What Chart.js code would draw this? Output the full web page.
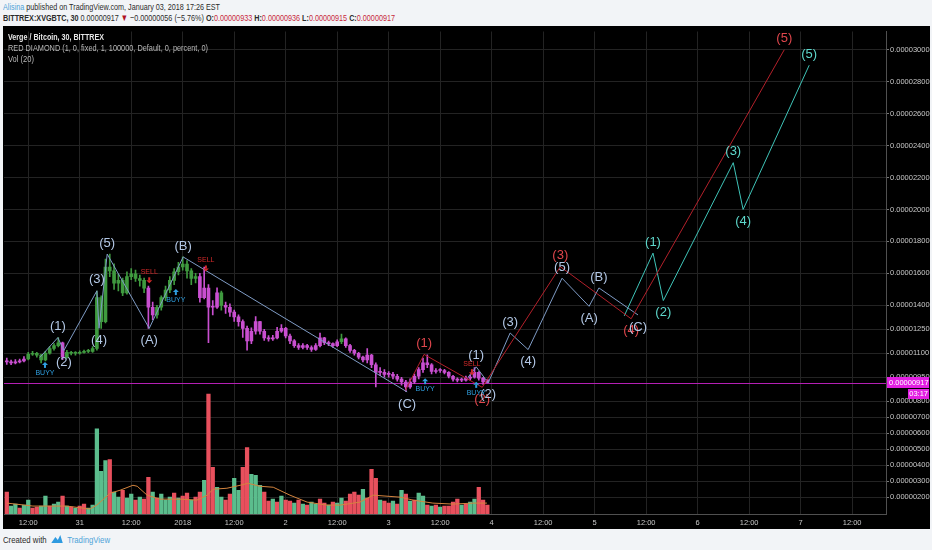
<!DOCTYPE html>
<html>
<head>
<meta charset="utf-8">
<script src="https://cdn.jsdelivr.net/npm/chart.js@4.4.1/dist/chart.umd.min.js"></script>
<style>
  html,body{margin:0;padding:0;}
  body{width:932px;height:550px;background:#f2f4f7;position:relative;overflow:hidden;
       font-family:"Liberation Sans",Arial,sans-serif;}
  .fit{position:absolute;white-space:nowrap;transform-origin:0 0;}
  .hdr{left:3px;font-size:9.5px;color:#2b2b2b;}
  #h1{top:1px;}
  #h2{top:12px;}
  .red{color:#c8283a;}
  #wrap{position:absolute;left:3px;top:26px;width:927px;height:503px;background:#000;}
  #c{position:absolute;left:0;top:0;}
  .lg{left:5px;font-size:9px;}
  #foot{left:3px;top:534px;font-size:9.5px;color:#2b2b2b;}
</style>
</head>
<body>
<div class="fit hdr" id="h1" data-w="217"><span style="color:#4ea3d8">Alisina</span> published on TradingView.com, January 03, 2018 17:26 EST</div>
<div class="fit hdr" id="h2" data-w="392"><b>BITTREX:XVGBTC, 30</b> 0.00000917 <span style="color:#b0121f">&#9660;</span> &#8722;0.00000056 (&#8722;5.76%) <b>O:</b><span class="red">0.00000933</span> <b>H:</b><span class="red">0.00000936</span> <b>L:</b><span class="red">0.00000915</span> <b>C:</b><span class="red">0.00000917</span></div>
<div id="wrap">
  <canvas id="c" width="927" height="503"></canvas>
  <div class="fit lg" data-w="96" style="top:6px;color:#e6e6e6;font-weight:bold;">Verge / Bitcoin, 30, BITTREX</div>
  <div class="fit lg" data-w="200" style="top:17px;color:#b8b8b8;">RED DIAMOND (1, 0, fixed, 1, 100000, Default, 0, percent, 0)</div>
  <div class="fit lg" data-w="26" style="top:28px;color:#b8b8b8;">Vol (20)</div>
</div>
<div class="fit" id="foot" data-w="107">Created with <svg width="16" height="10" viewBox="0 0 16 10" style="vertical-align:-1px;margin:0 2px"><path d="M1 9 L6 3 L9 6 L12 1 L15 9 Z" fill="#2e9ae0"/></svg> <span style="color:#4ea3d8">TradingView</span></div>

<script>
// ---------- DATA (prices in satoshi = 1e-8 BTC, time in hours since Dec 30 00:00) ----------
const hours = [7,8,9,10,11,12,13,14,15,16,17,18,19,20,21,22,23,24,25,26,27,28,29,30,31,32,33,34,35,36,
  37,38,39,40,41,42,43,44,45,46,47,48,49,50,51,52,53,54,55,56,57,58,59,60,61,62,63,64,65,66,
  67,68,69,70,71,72,73,74,75,76,77,78,79,80,81,82,83,84,85,86,87,88,89,90,91,92,93,94,95,96,
  97,98,99,100,101,102,103,104,105,106,107,108,109,110,111,112,113,114,115,116,117,118,119];

const openP = [1050,1046,1040,1046,1052,1064,1094,1100,1088,1058,
  1100,1130,1148,1166,1076,1106,1100,1100,1106,1112,
  1112,1130,1448,1298,1640,1616,1538,1556,1478,1580,
  1598,1568,1556,1508,1388,1340,1388,1448,1496,1556,
  1610,1640,1658,1616,1568,1580,1448,1508,1388,1388,
  1478,1400,1388,1358,1328,1298,1256,1178,1238,1298,
  1238,1196,1190,1196,1238,1256,1208,1178,1148,1136,
  1148,1136,1124,1148,1196,1166,1160,1148,1172,1190,
  1148,1118,1100,1076,1058,1088,1028,980,980,968,
  968,956,938,920,890,920,956,998,1040,1028,
  986,992,992,980,956,938,932,932,944,950,
  980,944,933];
const closeP = [1046,1040,1046,1052,1064,1094,1100,1088,1058,1100,
  1130,1148,1166,1076,1106,1100,1100,1106,1112,1112,
  1130,1448,1298,1640,1616,1538,1556,1478,1580,1598,
  1568,1556,1508,1388,1340,1388,1448,1496,1556,1610,
  1640,1658,1616,1568,1580,1448,1508,1388,1388,1478,
  1400,1388,1358,1328,1298,1256,1178,1238,1298,1238,
  1196,1190,1196,1238,1256,1208,1178,1148,1136,1148,
  1136,1124,1148,1196,1166,1160,1148,1172,1190,1148,
  1118,1100,1076,1058,1088,1028,980,980,968,968,
  956,938,920,890,920,956,998,1040,1028,986,
  992,992,980,956,938,932,932,944,950,980,
  944,920,917];
const highP = [1070,1058,1060,1064,1080,1106,1112,1106,1094,1112,
  1142,1160,1198,1170,1118,1112,1110,1116,1120,1124,
  1142,1490,1460,1690,1721,1660,1596,1570,1610,1630,
  1620,1590,1570,1520,1420,1400,1460,1520,1580,1630,
  1670,1703,1680,1630,1600,1600,1640,1530,1430,1510,
  1490,1420,1410,1370,1340,1310,1270,1260,1330,1300,
  1250,1210,1212,1262,1280,1262,1220,1186,1160,1160,
  1156,1146,1160,1226,1200,1176,1166,1184,1220,1196,
  1156,1124,1106,1082,1130,1094,1040,1010,998,986,
  980,968,950,930,940,970,1010,1070,1090,1036,
  1004,1004,1000,986,962,946,944,958,964,1010,
  986,950,936];
const lowP = [1030,1028,1034,1040,1046,1058,1086,1076,1040,1052,
  1094,1120,1140,1060,1070,1090,1088,1094,1100,1104,
  1106,1120,1256,1290,1580,1500,1490,1460,1470,1560,
  1550,1520,1480,1256,1310,1320,1370,1430,1480,1530,
  1590,1620,1570,1530,1540,1420,1440,1166,1340,1380,
  1370,1350,1330,1300,1270,1200,1120,1160,1220,1220,
  1180,1176,1180,1190,1230,1196,1160,1136,1124,1128,
  1124,1112,1118,1140,1154,1148,1136,1142,1160,1136,
  1106,1088,1064,1046,1040,1010,890,960,950,950,
  940,926,900,862,880,910,940,980,1010,970,
  976,980,970,946,926,920,922,926,932,944,
  932,905,915];
// RED DIAMOND trend state: 1 = bullish (green bars), -1 = bearish (magenta bars)
const trendState = [-1,-1,-1,-1,-1,1,1,1,1,1,
  1,1,1,-1,1,1,1,1,1,1,
  1,1,1,1,1,1,1,1,1,1,
  1,1,1,-1,-1,1,1,1,1,1,
  1,1,1,1,1,-1,-1,-1,-1,-1,
  1,-1,-1,-1,-1,-1,-1,-1,-1,-1,
  -1,-1,-1,-1,-1,-1,-1,-1,-1,-1,
  -1,-1,-1,-1,-1,-1,-1,-1,1,-1,
  -1,-1,-1,-1,-1,-1,-1,-1,-1,-1,
  -1,-1,-1,-1,-1,-1,-1,-1,-1,-1,
  -1,-1,-1,-1,-1,-1,-1,-1,-1,-1,
  -1,-1,-1];
// Volume (relative units) and its bar direction (1 up, -1 down)
const volume = [22,8,10,6,9,14,6,7,8,18,
  8,10,12,18,8,7,6,8,10,6,
  9,86,43,54,55,22,17,24,16,20,
  14,17,15,37,22,16,20,14,17,21,
  16,18,21,14,17,22,34,121,47,27,
  17,14,20,36,24,47,67,40,39,29,
  22,13,15,12,18,14,13,11,14,10,
  9,12,10,15,11,9,12,11,16,13,
  20,22,19,25,16,45,36,14,13,11,
  13,10,24,20,13,14,21,18,9,8,
  9,7,8,8,12,15,9,10,12,15,
  27,14,9];
const volDir = [-1,1,1,-1,1,1,-1,-1,1,1,
  -1,1,1,-1,1,-1,1,-1,-1,1,
  1,1,1,1,-1,1,1,-1,1,1,
  -1,1,-1,-1,1,-1,1,1,1,-1,
  1,-1,-1,1,-1,-1,1,-1,-1,1,
  1,-1,-1,1,1,-1,-1,1,1,1,
  -1,-1,1,-1,1,-1,-1,1,-1,1,
  -1,1,1,-1,-1,1,-1,1,1,-1,
  -1,-1,-1,1,-1,-1,-1,1,-1,-1,
  1,-1,1,-1,1,-1,1,1,-1,1,
  -1,1,-1,-1,-1,-1,1,-1,1,1,
  -1,-1,-1];
// Volume moving average (20), read at points
const volMaHours = [7.05,13.1,21.0,26.4,28.0,31.1,33.4,36.4,37.4,39.7,42.7,47.4,51.3,53.7,55.1,58.3,
  61.4,63.2,66.0,69.1,73.0,77.0,81.6,84.7,89.3,92.4,98.7,101.7,106.3,111.0,115.7,118.9];
const volMaValues = [11,8,8,5,9,21,24,29,28,19,15,15,14,19,25,26,29,31,28,27,19,12,9,9,12,19,17,14,11,10,11,11];

// Elliott wave drawings (hour, price, label)
const waveHistHours  = [14.7,18.9,20.3,28.0,28.5,30.4,40.2,48.1,100.3];
const waveHistPrices = [1074,1198,1117,1491,1256,1721,1256,1703,858];
const waveHistLabels = ['','(1)','(2)','(3)','(4)','(5)','(A)','(B)','(C)'];

const waveRedHours  = [99.8,104.25,117.8,136.0,152.5,188.2];
const waveRedPrices = [864,1093,887,1642,1316,3000];
const waveRedLabels = ['','(1)','(2)','(3)','(4)','(5)'];

const waveBlueHours  = [114.5,116.4,119.2,124.3,128.5,136.4,142.7,145.0,154.1];
const waveBluePrices = [950,1015,915,1227,1123,1570,1394,1509,1340];
const waveBlueLabels = ['','(1)','(2)','(3)','(4)','(5)','(A)','(B)','(C)'];

const waveCyanHours  = [150.9,157.6,160.0,176.3,178.6,194.0];
const waveCyanPrices = [1334,1727,1430,2293,2000,2903];
const waveCyanLabels = ['','(1)','(2)','(3)','(4)','(5)'];

// Signal markers
const markerHours  = [15.9,40.2,46.4,53.4,104.5,115.4,116.4];
const markerPrices = [1046,1538,1502,1612,944,963,921];
const markerTypes  = ['BUYY','SELL','BUYY','SELL','BUYY','SELL','BUYY'];

// Axis ticks
const xTickHours  = [12,24,36,48,60,72,84,96,108,120,132,144,156,168,180,192,204];
const xTickLabels = ['12:00','31','12:00','2018','12:00','2','12:00','3','12:00','4','12:00','5','12:00','6','12:00','7','12:00'];
const yTickValues = [200,300,400,500,600,700,800,950,1100,1250,1400,1600,1800,2000,2200,2400,2600,2800,3000];
const lastClose = 917;
const countdown = '03:17';

// ---------- text fitting (scale HTML text to the reference widths) ----------
document.querySelectorAll('[data-w]').forEach(el => {
  const w = el.getBoundingClientRect().width;
  el.style.transform = 'scaleX(' + (parseFloat(el.dataset.w) / w) + ')';
});

// ---------- CHART ----------
const FONT = '"Liberation Sans",Arial,sans-serif';
const GREEN = '#3f9a3f', MAGENTA = '#c94fd0';
const VGREEN = '#5bbd8d', VRED = '#e8505d';
const fmt = v => (v / 1e8).toFixed(8);

const body = hours.map((h, i) => ({x: h, y: [openP[i], closeP[i]]}));
const wick = hours.map((h, i) => ({x: h, y: [lowP[i], highP[i]]}));
const vols = hours.map((h, i) => ({x: h, y: volume[i]}));
const volMa = volMaHours.map((h, i) => ({x: h, y: volMaValues[i]}));
const pts = (hs, ps) => hs.map((h, i) => ({x: h, y: ps[i]}));

const waves = [
  {h: waveHistHours, p: waveHistPrices, l: waveHistLabels, line: '#7f9cc6', text: '#b3c8e6'},
  {h: waveRedHours,  p: waveRedPrices,  l: waveRedLabels,  line: '#b3202a', text: '#e0464c'},
  {h: waveBlueHours, p: waveBluePrices, l: waveBlueLabels, line: '#7f9cc6', text: '#b3c8e6'},
  {h: waveCyanHours, p: waveCyanPrices, l: waveCyanLabels, line: '#3fc4b8', text: '#5ed8cc'}
];

const lineDs = waves.map(w => ({
  type: 'line', data: pts(w.h, w.p), borderColor: w.line, borderWidth: 1,
  pointRadius: 0, tension: 0, yAxisID: 'y', order: 1
}));

const overlay = {
  id: 'overlay',
  beforeDatasetsDraw(chart) {
    const {ctx, chartArea: a, scales: {y}} = chart;
    const py = Math.round(y.getPixelForValue(lastClose)) + 0.5;
    ctx.save();
    ctx.strokeStyle = '#b41fb4';
    ctx.lineWidth = 1;
    ctx.beginPath(); ctx.moveTo(a.left, py); ctx.lineTo(a.right, py); ctx.stroke();
    ctx.restore();
  },
  afterDatasetsDraw(chart) {
    const {ctx, scales: {x, y}} = chart;
    ctx.save();
    ctx.font = '13px ' + FONT;
    ctx.textAlign = 'center'; ctx.textBaseline = 'middle';
    waves.forEach(w => {
      w.l.forEach((lab, i) => {
        if (!lab) return;
        const peak = i > 0 ? w.p[i] > w.p[i - 1] : true;
        const px = x.getPixelForValue(w.h[i]);
        const py = y.getPixelForValue(w.p[i]) + (peak ? -11 : 12);
        ctx.fillStyle = w.text;
        ctx.fillText(lab, px, py);
      });
    });
    // signal markers
    ctx.font = '7px ' + FONT;
    markerTypes.forEach((t, i) => {
      const px = x.getPixelForValue(markerHours[i]);
      const py = y.getPixelForValue(markerPrices[i]);
      const buy = t === 'BUYY';
      ctx.fillStyle = buy ? '#2f9fe0' : '#d42a2a';
      ctx.beginPath();
      if (buy) {
        ctx.moveTo(px, py); ctx.lineTo(px - 3, py + 3); ctx.lineTo(px + 3, py + 3); ctx.closePath(); ctx.fill();
        ctx.fillRect(px - 1, py + 3, 2, 3);
        ctx.fillText(t, px, py + 11);
      } else {
        ctx.moveTo(px, py); ctx.lineTo(px - 3, py - 3); ctx.lineTo(px + 3, py - 3); ctx.closePath(); ctx.fill();
        ctx.fillRect(px - 1, py - 6, 2, 3);
        ctx.fillText(t, px, py - 11);
      }
    });
    ctx.restore();
  },
  afterDraw(chart) {
    const {ctx, chartArea: a, scales: {y}} = chart;
    const py = Math.round(y.getPixelForValue(lastClose));
    ctx.save();
    ctx.fillStyle = '#e21fe2';
    ctx.fillRect(a.right + 1, py - 6, 42, 11);
    ctx.fillRect(a.right + 22, py + 6, 21, 10);
    ctx.fillStyle = '#ffffff';
    ctx.font = '7.5px ' + FONT;
    ctx.textBaseline = 'middle'; ctx.textAlign = 'left';
    ctx.fillText(fmt(lastClose), a.right + 3, py);
    ctx.textAlign = 'right';
    ctx.fillText(countdown, a.right + 42, py + 11);
    ctx.restore();
  }
};

new Chart(document.getElementById('c'), {
  type: 'bar',
  data: {
    datasets: [
      ...lineDs,
      {type: 'bar', data: body, yAxisID: 'y', grouped: false, barThickness: 3, minBarLength: 1, order: 4,
       backgroundColor: c => trendState[c.dataIndex] > 0 ? GREEN : MAGENTA},
      {type: 'bar', data: wick, yAxisID: 'y', grouped: false, barThickness: 1, order: 5,
       backgroundColor: c => trendState[c.dataIndex] > 0 ? GREEN : MAGENTA},
      {type: 'line', data: volMa, yAxisID: 'yv', borderColor: '#d4843e', borderWidth: 1,
       pointRadius: 0, tension: 0, order: 9},
      {type: 'bar', data: vols, yAxisID: 'yv', grouped: false, barThickness: 3.6, order: 10,
       backgroundColor: c => volDir[c.dataIndex] > 0 ? VGREEN : VRED}
    ]
  },
  options: {
    responsive: false,
    animation: false,
    layout: {padding: {left: 1, top: 1, right: 0, bottom: 0}},
    plugins: {legend: {display: false}, tooltip: {enabled: false}},
    scales: {
      x: {
        type: 'linear', min: 6.35, max: 211.9, offset: false,
        afterBuildTicks: s => { s.ticks = xTickHours.map(v => ({value: v})); },
        afterFit: s => { s.height = 15; },
        ticks: {callback: (v, i) => xTickLabels[i], color: '#c8c8c8', font: {size: 7.5, family: FONT},
                maxRotation: 0, autoSkip: false, padding: 4},
        grid: {color: '#232323', drawTicks: false, offset: false},
        border: {color: '#505050'}
      },
      y: {
        type: 'linear', position: 'right', min: 94, max: 3114,
        afterBuildTicks: s => { s.ticks = yTickValues.map(v => ({value: v})); },
        afterFit: s => { s.width = 44; },
        ticks: {callback: v => fmt(v), color: '#c8c8c8', font: {size: 7.5, family: FONT}, padding: 1},
        grid: {color: '#232323', tickLength: 3, tickColor: '#777'},
        border: {color: '#505050'}
      },
      yv: {type: 'linear', display: false, min: 0, max: 487}
    }
  },
  plugins: [overlay]
});
</script>
</body>
</html>
